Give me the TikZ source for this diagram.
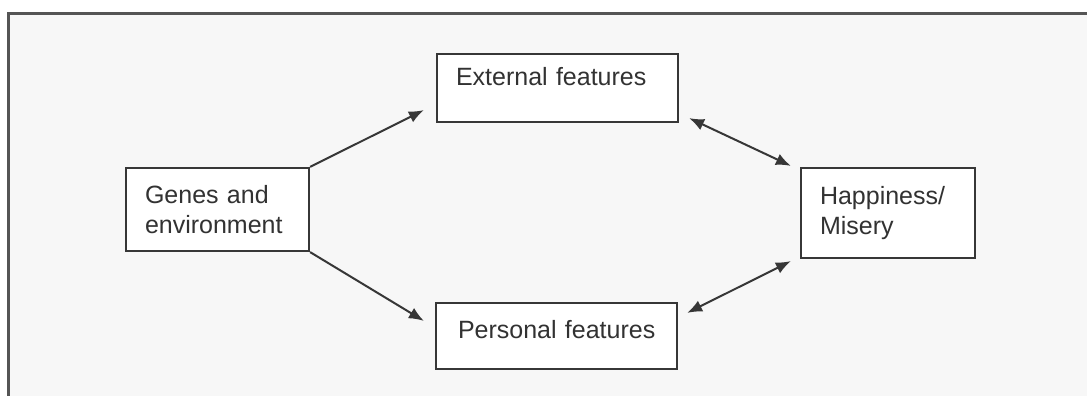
\documentclass[tikz,border=0pt]{standalone}
\usepackage{fontspec}
\setmainfont{Liberation Sans}
\usetikzlibrary{arrows.meta}
\definecolor{paper}{RGB}{247,247,247}
\definecolor{rahmen}{RGB}{85,85,85}
\definecolor{linie}{RGB}{55,55,55}
\definecolor{schrift}{RGB}{50,50,50}
\begin{document}
\begin{tikzpicture}[x=1pt, y=-1pt, font=\fontsize{25}{30}\selectfont,
    kasten/.style={draw=linie, fill=white, line width=2.2pt, text=schrift,
      align=left, inner ysep=0pt, minimum height=#1},
    pfeil/.style={draw=linie, line width=2pt, -{Latex[length=15pt,width=12pt]}},
    doppel/.style={pfeil, {Latex[length=15pt,width=12pt]}-{Latex[length=15pt,width=12pt]}}]
  \useasboundingbox (0,0) rectangle (1087,396);
  % Hintergrund und Rahmen
  \fill[paper] (9,14) rectangle (1087,396);
  \draw[rahmen, line width=3pt] (8.5,396) -- (8.5,14) -- (1087,14);

  % Kaesten
  \node[kasten=83pt, inner xsep=19pt, text width=145pt] (genes) at (217.5,209.5)
    {Genes and\\environment};
  \node[kasten=68pt, inner xsep=19pt, text width=203pt] (extern) at (557.5,88)
    {External features\\[-7pt]\mbox{}};
  \node[kasten=66pt, inner xsep=19pt, text width=203pt] (person) at (556.5,336)
    {\hspace*{3pt}Personal features\\[-16pt]\mbox{}};
  \node[kasten=90pt, inner xsep=19pt, text width=136pt] (glueck) at (888,213)
    {Happiness/\\Misery};

  % Pfeile
  \draw[pfeil] (genes.north east) -- ([xshift=-12pt, yshift=13pt]extern.south west);
  \draw[pfeil] (genes.south east) -- ([xshift=-11pt, yshift=-19pt]person.north west);
  \draw[doppel] ([xshift=10pt, yshift=5pt]extern.south east)
    -- ([xshift=-9pt, yshift=1pt]glueck.north west);
  \draw[doppel] ([xshift=9pt, yshift=-11pt]person.north east)
    -- ([xshift=-9pt, yshift=-2pt]glueck.south west);
\end{tikzpicture}
\end{document}
